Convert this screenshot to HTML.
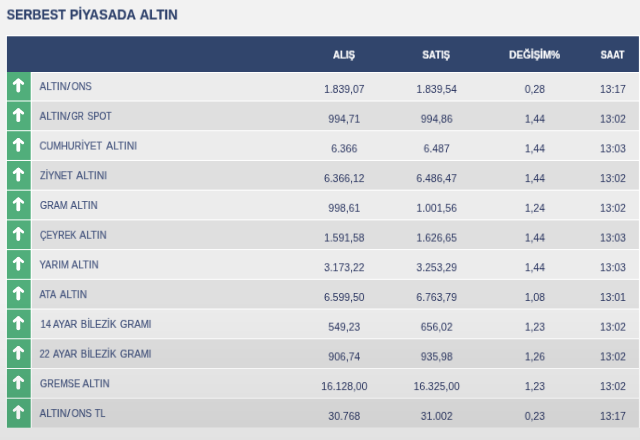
<!DOCTYPE html>
<html lang="tr"><head><meta charset="utf-8"><title>Serbest Piyasada Altın</title>
<style>
html,body{margin:0;padding:0;}
body{width:640px;height:440px;overflow:hidden;background:#f2f2f2;font-family:"Liberation Sans",sans-serif;}
#wrap{position:relative;width:640px;height:440px;overflow:hidden;}
#bg,#ov{position:absolute;left:0;top:0;}
#ov{pointer-events:none;}
.t{position:absolute;left:0;top:0;white-space:nowrap;line-height:1;transform-origin:0 0;display:block;will-change:transform;}
h1{margin:0;padding:0;font-size:0;}
.row,.thead{font-size:0;}
.title{font-weight:bold;color:#2e416b;-webkit-text-stroke:0.2px #2e416b;}
.head{font-weight:bold;color:#fff;-webkit-text-stroke:0.2px #fff;}
.name{color:#42527c;-webkit-text-stroke:0.15px #42527c;}
.num{color:#2a3560;}
</style></head><body><div id="wrap">
<svg id="bg" width="640" height="440" viewBox="0 0 640 440">
<rect x="0" y="0" width="640" height="440" fill="#f2f2f2"/>
<rect x="5.8" y="35.2" width="634.1" height="392.7" fill="#ffffff"/>
<rect x="6.9" y="36.3" width="632" height="35.7" fill="#31456c"/>
<rect x="6.9" y="72.00" width="23.80" height="28.50" fill="#51ae7b"/>
<rect x="31.8" y="73.00" width="607.10" height="27.50" fill="#ececec"/>
<g transform="translate(0 0.00)" fill="none" stroke="#fff" stroke-linecap="round" stroke-linejoin="round"><path d="M14.15 83.4 L18.45 79.9 L22.75 83.4" stroke-width="2.8"/><path d="M18.3 80.5 L18.3 90.5" stroke-width="3.8"/></g>
<rect x="6.9" y="101.50" width="23.80" height="28.72" fill="#51ae7b"/>
<rect x="31.8" y="101.50" width="607.10" height="28.72" fill="#dfdfdf"/>
<g transform="translate(0 29.72)" fill="none" stroke="#fff" stroke-linecap="round" stroke-linejoin="round"><path d="M14.15 83.4 L18.45 79.9 L22.75 83.4" stroke-width="2.8"/><path d="M18.3 80.5 L18.3 90.5" stroke-width="3.8"/></g>
<rect x="6.9" y="131.22" width="23.80" height="28.72" fill="#51ae7b"/>
<rect x="31.8" y="131.22" width="607.10" height="28.72" fill="#ececec"/>
<g transform="translate(0 59.44)" fill="none" stroke="#fff" stroke-linecap="round" stroke-linejoin="round"><path d="M14.15 83.4 L18.45 79.9 L22.75 83.4" stroke-width="2.8"/><path d="M18.3 80.5 L18.3 90.5" stroke-width="3.8"/></g>
<rect x="6.9" y="160.94" width="23.80" height="28.72" fill="#51ae7b"/>
<rect x="31.8" y="160.94" width="607.10" height="28.72" fill="#dfdfdf"/>
<g transform="translate(0 89.16)" fill="none" stroke="#fff" stroke-linecap="round" stroke-linejoin="round"><path d="M14.15 83.4 L18.45 79.9 L22.75 83.4" stroke-width="2.8"/><path d="M18.3 80.5 L18.3 90.5" stroke-width="3.8"/></g>
<rect x="6.9" y="190.66" width="23.80" height="28.72" fill="#51ae7b"/>
<rect x="31.8" y="190.66" width="607.10" height="28.72" fill="#ececec"/>
<g transform="translate(0 118.88)" fill="none" stroke="#fff" stroke-linecap="round" stroke-linejoin="round"><path d="M14.15 83.4 L18.45 79.9 L22.75 83.4" stroke-width="2.8"/><path d="M18.3 80.5 L18.3 90.5" stroke-width="3.8"/></g>
<rect x="6.9" y="220.38" width="23.80" height="28.72" fill="#51ae7b"/>
<rect x="31.8" y="220.38" width="607.10" height="28.72" fill="#dfdfdf"/>
<g transform="translate(0 148.60)" fill="none" stroke="#fff" stroke-linecap="round" stroke-linejoin="round"><path d="M14.15 83.4 L18.45 79.9 L22.75 83.4" stroke-width="2.8"/><path d="M18.3 80.5 L18.3 90.5" stroke-width="3.8"/></g>
<rect x="6.9" y="250.10" width="23.80" height="28.72" fill="#51ae7b"/>
<rect x="31.8" y="250.10" width="607.10" height="28.72" fill="#ececec"/>
<g transform="translate(0 178.32)" fill="none" stroke="#fff" stroke-linecap="round" stroke-linejoin="round"><path d="M14.15 83.4 L18.45 79.9 L22.75 83.4" stroke-width="2.8"/><path d="M18.3 80.5 L18.3 90.5" stroke-width="3.8"/></g>
<rect x="6.9" y="279.82" width="23.80" height="28.72" fill="#51ae7b"/>
<rect x="31.8" y="279.82" width="607.10" height="28.72" fill="#dfdfdf"/>
<g transform="translate(0 208.04)" fill="none" stroke="#fff" stroke-linecap="round" stroke-linejoin="round"><path d="M14.15 83.4 L18.45 79.9 L22.75 83.4" stroke-width="2.8"/><path d="M18.3 80.5 L18.3 90.5" stroke-width="3.8"/></g>
<rect x="6.9" y="309.54" width="23.80" height="28.72" fill="#51ae7b"/>
<rect x="31.8" y="309.54" width="607.10" height="28.72" fill="#ececec"/>
<g transform="translate(0 237.76)" fill="none" stroke="#fff" stroke-linecap="round" stroke-linejoin="round"><path d="M14.15 83.4 L18.45 79.9 L22.75 83.4" stroke-width="2.8"/><path d="M18.3 80.5 L18.3 90.5" stroke-width="3.8"/></g>
<rect x="6.9" y="339.26" width="23.80" height="28.72" fill="#51ae7b"/>
<rect x="31.8" y="339.26" width="607.10" height="28.72" fill="#dfdfdf"/>
<g transform="translate(0 267.48)" fill="none" stroke="#fff" stroke-linecap="round" stroke-linejoin="round"><path d="M14.15 83.4 L18.45 79.9 L22.75 83.4" stroke-width="2.8"/><path d="M18.3 80.5 L18.3 90.5" stroke-width="3.8"/></g>
<rect x="6.9" y="368.98" width="23.80" height="28.72" fill="#51ae7b"/>
<rect x="31.8" y="368.98" width="607.10" height="28.72" fill="#ececec"/>
<g transform="translate(0 297.20)" fill="none" stroke="#fff" stroke-linecap="round" stroke-linejoin="round"><path d="M14.15 83.4 L18.45 79.9 L22.75 83.4" stroke-width="2.8"/><path d="M18.3 80.5 L18.3 90.5" stroke-width="3.8"/></g>
<rect x="6.9" y="398.70" width="23.80" height="29.02" fill="#51ae7b"/>
<rect x="31.8" y="398.70" width="607.10" height="29.02" fill="#dfdfdf"/>
<g transform="translate(0 326.92)" fill="none" stroke="#fff" stroke-linecap="round" stroke-linejoin="round"><path d="M14.15 83.4 L18.45 79.9 L22.75 83.4" stroke-width="2.8"/><path d="M18.3 80.5 L18.3 90.5" stroke-width="3.8"/></g>
</svg>
<h1><span class="t title" style="font-size:15.0px;transform:translate(6.70px,6.50px) scaleX(0.8333)">SERBEST</span> <span class="t title" style="font-size:15.0px;transform:translate(69.73px,6.50px) scaleX(0.8698)">PİYASADA</span> <span class="t title" style="font-size:15.0px;transform:translate(139.70px,6.50px) scaleX(0.8789)">ALTIN</span></h1>
<div class="thead"><span class="t head" style="font-size:10.6px;transform:translate(333.00px,49.53px) scaleX(0.9142)">ALIŞ</span> <span class="t head" style="font-size:10.6px;transform:translate(422.50px,49.53px) scaleX(0.9063)">SATIŞ</span> <span class="t head" style="font-size:10.6px;transform:translate(509.25px,49.53px) scaleX(0.9364)">DEĞİŞİM%</span> <span class="t head" style="font-size:10.6px;transform:translate(600.75px,49.53px) scaleX(0.8485)">SAAT</span></div>
<div class="row"><span class="t name" style="font-size:10.7px;transform:translate(39.60px,81.09px) scaleX(0.9209)">ALTIN</span><span class="t name" style="font-size:10.7px;transform:translate(67.00px,81.09px) scaleX(1.1333)">/</span><span class="t name" style="font-size:10.7px;transform:translate(71.60px,81.09px) scaleX(0.8640)">ONS</span> <span class="t num" style="font-size:11.2px;transform:translate(324.05px,83.92px) scaleX(0.9300)">1.839,07</span> <span class="t num" style="font-size:11.2px;transform:translate(416.45px,83.92px) scaleX(0.9300)">1.839,54</span> <span class="t num" style="font-size:11.2px;transform:translate(524.78px,83.92px) scaleX(0.9300)">0,28</span> <span class="t num" style="font-size:11.2px;transform:translate(599.89px,83.92px) scaleX(0.9300)">13:17</span></div>
<div class="row"><span class="t name" style="font-size:10.7px;transform:translate(39.60px,110.81px) scaleX(0.9209)">ALTIN</span><span class="t name" style="font-size:10.7px;transform:translate(67.00px,110.81px) scaleX(1.1333)">/</span><span class="t name" style="font-size:10.7px;transform:translate(71.50px,110.81px) scaleX(0.7663)">GR</span> <span class="t name" style="font-size:10.7px;transform:translate(87.50px,110.81px) scaleX(0.8285)">SPOT</span> <span class="t num" style="font-size:11.2px;transform:translate(328.39px,113.64px) scaleX(0.9300)">994,71</span> <span class="t num" style="font-size:11.2px;transform:translate(420.79px,113.64px) scaleX(0.9300)">994,86</span> <span class="t num" style="font-size:11.2px;transform:translate(524.78px,113.64px) scaleX(0.9300)">1,44</span> <span class="t num" style="font-size:11.2px;transform:translate(599.89px,113.64px) scaleX(0.9300)">13:02</span></div>
<div class="row"><span class="t name" style="font-size:10.7px;transform:translate(39.60px,140.53px) scaleX(0.8770)">CUMHURİYET</span> <span class="t name" style="font-size:10.7px;transform:translate(106.25px,140.53px) scaleX(0.9446)">ALTINI</span> <span class="t num" style="font-size:11.2px;transform:translate(331.29px,143.36px) scaleX(0.9300)">6.366</span> <span class="t num" style="font-size:11.2px;transform:translate(423.69px,143.36px) scaleX(0.9300)">6.487</span> <span class="t num" style="font-size:11.2px;transform:translate(524.78px,143.36px) scaleX(0.9300)">1,44</span> <span class="t num" style="font-size:11.2px;transform:translate(599.89px,143.36px) scaleX(0.9300)">13:03</span></div>
<div class="row"><span class="t name" style="font-size:10.7px;transform:translate(40.00px,170.25px) scaleX(0.8577)">ZİYNET</span> <span class="t name" style="font-size:10.7px;transform:translate(76.25px,170.25px) scaleX(0.9446)">ALTINI</span> <span class="t num" style="font-size:11.2px;transform:translate(324.05px,173.08px) scaleX(0.9300)">6.366,12</span> <span class="t num" style="font-size:11.2px;transform:translate(416.45px,173.08px) scaleX(0.9300)">6.486,47</span> <span class="t num" style="font-size:11.2px;transform:translate(524.78px,173.08px) scaleX(0.9300)">1,44</span> <span class="t num" style="font-size:11.2px;transform:translate(599.89px,173.08px) scaleX(0.9300)">13:02</span></div>
<div class="row"><span class="t name" style="font-size:10.7px;transform:translate(40.00px,199.97px) scaleX(0.8551)">GRAM</span> <span class="t name" style="font-size:10.7px;transform:translate(70.50px,199.97px) scaleX(0.9209)">ALTIN</span> <span class="t num" style="font-size:11.2px;transform:translate(328.39px,202.80px) scaleX(0.9300)">998,61</span> <span class="t num" style="font-size:11.2px;transform:translate(416.45px,202.80px) scaleX(0.9300)">1.001,56</span> <span class="t num" style="font-size:11.2px;transform:translate(524.78px,202.80px) scaleX(0.9300)">1,24</span> <span class="t num" style="font-size:11.2px;transform:translate(599.89px,202.80px) scaleX(0.9300)">13:02</span></div>
<div class="row"><span class="t name" style="font-size:10.7px;transform:translate(40.00px,229.69px) scaleX(0.8255)">ÇEYREK</span> <span class="t name" style="font-size:10.7px;transform:translate(79.50px,229.69px) scaleX(0.9209)">ALTIN</span> <span class="t num" style="font-size:11.2px;transform:translate(324.05px,232.52px) scaleX(0.9300)">1.591,58</span> <span class="t num" style="font-size:11.2px;transform:translate(416.45px,232.52px) scaleX(0.9300)">1.626,65</span> <span class="t num" style="font-size:11.2px;transform:translate(524.78px,232.52px) scaleX(0.9300)">1,44</span> <span class="t num" style="font-size:11.2px;transform:translate(599.89px,232.52px) scaleX(0.9300)">13:03</span></div>
<div class="row"><span class="t name" style="font-size:10.7px;transform:translate(39.50px,259.41px) scaleX(0.8823)">YARIM</span> <span class="t name" style="font-size:10.7px;transform:translate(71.50px,259.41px) scaleX(0.9209)">ALTIN</span> <span class="t num" style="font-size:11.2px;transform:translate(324.05px,262.24px) scaleX(0.9300)">3.173,22</span> <span class="t num" style="font-size:11.2px;transform:translate(416.45px,262.24px) scaleX(0.9300)">3.253,29</span> <span class="t num" style="font-size:11.2px;transform:translate(524.78px,262.24px) scaleX(0.9300)">1,44</span> <span class="t num" style="font-size:11.2px;transform:translate(599.89px,262.24px) scaleX(0.9300)">13:03</span></div>
<div class="row"><span class="t name" style="font-size:10.7px;transform:translate(39.50px,289.13px) scaleX(0.8720)">ATA</span> <span class="t name" style="font-size:10.7px;transform:translate(59.75px,289.13px) scaleX(0.9209)">ALTIN</span> <span class="t num" style="font-size:11.2px;transform:translate(324.05px,291.96px) scaleX(0.9300)">6.599,50</span> <span class="t num" style="font-size:11.2px;transform:translate(416.45px,291.96px) scaleX(0.9300)">6.763,79</span> <span class="t num" style="font-size:11.2px;transform:translate(524.78px,291.96px) scaleX(0.9300)">1,08</span> <span class="t num" style="font-size:11.2px;transform:translate(599.89px,291.96px) scaleX(0.9300)">13:01</span></div>
<div class="row"><span class="t name" style="font-size:10.7px;transform:translate(40.60px,318.85px) scaleX(0.8707)">14</span> <span class="t name" style="font-size:10.7px;transform:translate(53.00px,318.85px) scaleX(0.8814)">AYAR</span> <span class="t name" style="font-size:10.7px;transform:translate(80.75px,318.85px) scaleX(0.8914)">BİLEZİK</span> <span class="t name" style="font-size:10.7px;transform:translate(120.00px,318.85px) scaleX(0.8954)">GRAMI</span> <span class="t num" style="font-size:11.2px;transform:translate(328.39px,321.68px) scaleX(0.9300)">549,23</span> <span class="t num" style="font-size:11.2px;transform:translate(420.79px,321.68px) scaleX(0.9300)">656,02</span> <span class="t num" style="font-size:11.2px;transform:translate(524.78px,321.68px) scaleX(0.9300)">1,23</span> <span class="t num" style="font-size:11.2px;transform:translate(599.89px,321.68px) scaleX(0.9300)">13:02</span></div>
<div class="row"><span class="t name" style="font-size:10.7px;transform:translate(39.60px,348.57px) scaleX(0.8289)">22</span> <span class="t name" style="font-size:10.7px;transform:translate(53.00px,348.57px) scaleX(0.8814)">AYAR</span> <span class="t name" style="font-size:10.7px;transform:translate(80.75px,348.57px) scaleX(0.8914)">BİLEZİK</span> <span class="t name" style="font-size:10.7px;transform:translate(120.00px,348.57px) scaleX(0.8954)">GRAMI</span> <span class="t num" style="font-size:11.2px;transform:translate(328.39px,351.40px) scaleX(0.9300)">906,74</span> <span class="t num" style="font-size:11.2px;transform:translate(420.79px,351.40px) scaleX(0.9300)">935,98</span> <span class="t num" style="font-size:11.2px;transform:translate(524.78px,351.40px) scaleX(0.9300)">1,26</span> <span class="t num" style="font-size:11.2px;transform:translate(599.89px,351.40px) scaleX(0.9300)">13:02</span></div>
<div class="row"><span class="t name" style="font-size:10.7px;transform:translate(40.00px,378.29px) scaleX(0.8660)">GREMSE</span> <span class="t name" style="font-size:10.7px;transform:translate(82.50px,378.29px) scaleX(0.9209)">ALTIN</span> <span class="t num" style="font-size:11.2px;transform:translate(321.16px,381.12px) scaleX(0.9300)">16.128,00</span> <span class="t num" style="font-size:11.2px;transform:translate(413.56px,381.12px) scaleX(0.9300)">16.325,00</span> <span class="t num" style="font-size:11.2px;transform:translate(524.78px,381.12px) scaleX(0.9300)">1,23</span> <span class="t num" style="font-size:11.2px;transform:translate(599.89px,381.12px) scaleX(0.9300)">13:02</span></div>
<div class="row"><span class="t name" style="font-size:10.7px;transform:translate(39.60px,408.01px) scaleX(0.9209)">ALTIN</span><span class="t name" style="font-size:10.7px;transform:translate(67.00px,408.01px) scaleX(1.1333)">/</span><span class="t name" style="font-size:10.7px;transform:translate(71.60px,408.01px) scaleX(0.8684)">ONS</span> <span class="t name" style="font-size:10.7px;transform:translate(94.75px,408.01px) scaleX(0.8581)">TL</span> <span class="t num" style="font-size:11.2px;transform:translate(328.39px,410.84px) scaleX(0.9300)">30.768</span> <span class="t num" style="font-size:11.2px;transform:translate(420.79px,410.84px) scaleX(0.9300)">31.002</span> <span class="t num" style="font-size:11.2px;transform:translate(524.78px,410.84px) scaleX(0.9300)">0,23</span> <span class="t num" style="font-size:11.2px;transform:translate(599.89px,410.84px) scaleX(0.9300)">13:17</span></div>
<svg id="ov" width="640" height="440" viewBox="0 0 640 440"><defs><linearGradient id="ovg" gradientUnits="userSpaceOnUse" x1="0" y1="300" x2="0" y2="440"><stop offset="0" stop-color="#000" stop-opacity="0"/><stop offset="1" stop-color="#000" stop-opacity="0.062"/></linearGradient></defs><rect x="0" y="0" width="640" height="440" fill="url(#ovg)"/></svg>
</div></body></html>
